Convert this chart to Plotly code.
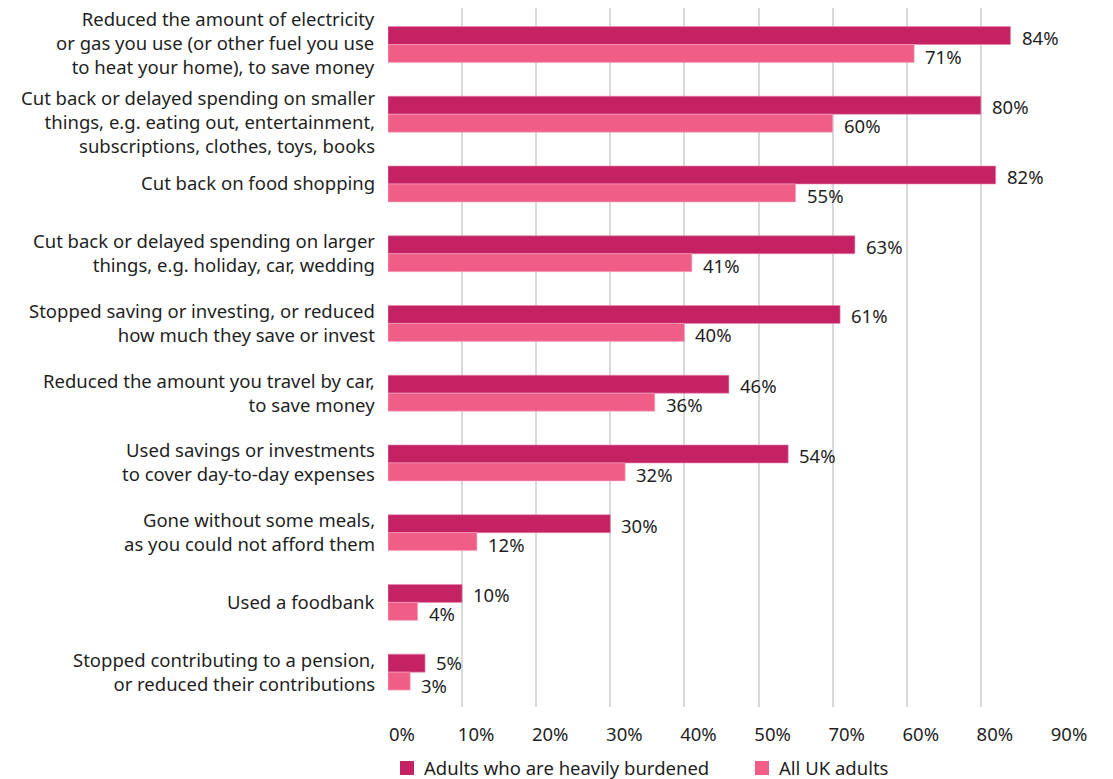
import plotly.graph_objects as go

# Survey responses: actions taken because of rising cost of living
categories = [
    "Reduced the amount of electricity<br>or gas you use (or other fuel you use<br>to heat your home), to save money",
    "Cut back or delayed spending on smaller<br>things, e.g. eating out, entertainment,<br>subscriptions, clothes, toys, books",
    "Cut back on food shopping",
    "Cut back or delayed spending on larger<br>things, e.g. holiday, car, wedding",
    "Stopped saving or investing, or reduced<br>how much they save or invest",
    "Reduced the amount you travel by car,<br>to save money",
    "Used savings or investments<br>to cover day-to-day expenses",
    "Gone without some meals,<br>as you could not afford them",
    "Used a foodbank",
    "Stopped contributing to a pension,<br>or reduced their contributions",
]
heavily_burdened = [84, 80, 82, 63, 61, 46, 54, 30, 10, 5]
all_uk_adults = [71, 60, 55, 41, 40, 36, 32, 12, 4, 3]
series_names = ["Adults who are heavily burdened", "All UK adults"]

x_tick_values = [0, 10, 20, 30, 40, 50, 60, 70, 80, 90]
x_tick_labels = ["0%", "10%", "20%", "30%", "40%", "50%", "70%", "60%", "80%", "90%"]

DARK = "#C52264"
LIGHT = "#F05E88"
FONT = "Noto Sans"
FS = 18.5
TEXT_COLOR = "#1f1f1f"

W, H = 1113, 779
M_L, M_R, M_T, M_B = 388, 58, 8, 72
PLOT_W = W - M_L - M_R
PLOT_H = H - M_T - M_B


def paper_x(px):
    return (px - M_L) / PLOT_W


def paper_y(py):
    return (H - M_B - py) / PLOT_H


fig = go.Figure()
fig.add_trace(go.Bar(
    y=categories, x=heavily_burdened, orientation="h",
    name=series_names[0],
    marker=dict(color=DARK, line=dict(color="#E58AAE", width=0.6)),
    hoverinfo="x+y",
))
fig.add_trace(go.Bar(
    y=categories, x=all_uk_adults, orientation="h",
    name=series_names[1],
    marker=dict(color=LIGHT, line=dict(color="#F7A9C0", width=0.6)),
    hoverinfo="x+y",
))

annotations = []
# category names, right-aligned against the plot's left edge
for i, cat in enumerate(categories):
    annotations.append(dict(
        x=0, xref="paper", y=cat, yref="y",
        text=cat, showarrow=False, xanchor="right", align="right",
        xshift=-11, yshift=(-7 if i == 1 else 2 if i == 0 else 1),
        font=dict(family=FONT, size=FS, color=TEXT_COLOR),
    ))
# value labels just past the end of each bar; spread the pair apart a little
# when the two labels would sit almost on top of each other
for cat, v_dark, v_light in zip(categories, heavily_burdened, all_uk_adults):
    spread = 2 if abs(v_dark - v_light) < 5 else 0
    annotations.append(dict(
        x=v_dark, y=cat, xref="x", yref="y", text=f"{v_dark}%",
        showarrow=False, xanchor="left", xshift=9, yshift=8 + spread,
        height=18, valign="middle",
        font=dict(family=FONT, size=FS, color=TEXT_COLOR),
    ))
    annotations.append(dict(
        x=v_light, y=cat, xref="x", yref="y", text=f"{v_light}%",
        showarrow=False, xanchor="left", xshift=9, yshift=-11 - spread,
        height=18, valign="middle",
        font=dict(family=FONT, size=FS, color=TEXT_COLOR),
    ))

# key below the axis: coloured square followed by series name
shapes = []
key_items = [(series_names[0], DARK, 400), (series_names[1], LIGHT, 755)]
for name, color, left in key_items:
    shapes.append(dict(
        type="rect", xref="paper", yref="paper",
        x0=paper_x(left), x1=paper_x(left + 14),
        y0=paper_y(775), y1=paper_y(761),
        fillcolor=color, line=dict(width=0),
    ))
    annotations.append(dict(
        x=paper_x(left + 22), y=paper_y(768), xref="paper", yref="paper",
        text=name, showarrow=False, xanchor="left", yanchor="middle",
        font=dict(family=FONT, size=FS, color=TEXT_COLOR),
    ))

fig.update_layout(
    width=W, height=H,
    margin=dict(l=M_L, r=M_R, t=M_T, b=M_B),
    barmode="group",
    bargap=0.485,
    bargroupgap=0,
    plot_bgcolor="white",
    paper_bgcolor="white",
    font=dict(family=FONT, size=FS, color=TEXT_COLOR),
    showlegend=False,
    annotations=annotations,
    shapes=shapes,
)
fig.update_xaxes(
    range=[0, 90],
    tickvals=x_tick_values, ticktext=x_tick_labels,
    showgrid=True, gridcolor="#d9d9d9", gridwidth=1.5,
    zeroline=False, showline=False,
    ticks="", ticklabelstandoff=14, ticklabelshift=14,
    tickfont=dict(family=FONT, size=FS, color=TEXT_COLOR),
    fixedrange=True, automargin=False,
)
fig.update_yaxes(
    autorange="reversed",
    showgrid=False, zeroline=False, showline=False,
    showticklabels=False, ticks="",
    fixedrange=True,
)

fig.write_html("out.html")
